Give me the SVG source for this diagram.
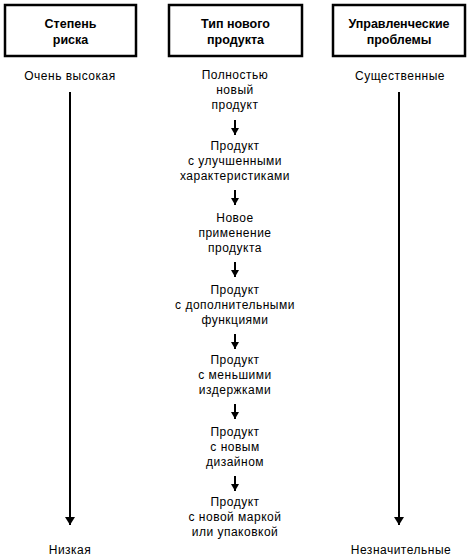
<svg xmlns="http://www.w3.org/2000/svg" width="474" height="558" viewBox="0 0 474 558">
<defs>
<style>
.box{fill:#fff;stroke:#000;stroke-width:2.5}
.h{font-family:"Liberation Sans",Arial,sans-serif;font-size:12.5px;font-weight:bold;text-anchor:middle;fill:#000}
.t{font-family:"Liberation Sans",Arial,sans-serif;font-size:12px;letter-spacing:0.5px;text-anchor:middle;fill:#000}
.big{stroke:#000;stroke-width:2;fill:none}
.sm{stroke:#000;stroke-width:2;fill:none}
</style>
<marker id="ah" viewBox="0 0 8 10" refX="8" refY="5" markerWidth="8" markerHeight="10" markerUnits="userSpaceOnUse" orient="auto"><path d="M0,0 L8,5 L0,10 z" fill="#000"/></marker>
<marker id="ahs" viewBox="0 0 7 8" refX="7" refY="4" markerWidth="7" markerHeight="8" markerUnits="userSpaceOnUse" orient="auto"><path d="M0,0 L7,4 L0,8 z" fill="#000"/></marker>
</defs>
<rect width="474" height="558" fill="#fff"/>
<g id="risk-header"><rect class="box" x="5" y="5" width="131" height="51"/><text class="h" x="70.5" y="28">Степень</text><text class="h" x="70.5" y="44">риска</text></g>
<g id="type-header"><rect class="box" x="169" y="5" width="133" height="51"/><text class="h" x="235.5" y="28">Тип нового</text><text class="h" x="235.5" y="44">продукта</text></g>
<g id="problems-header"><rect class="box" x="333" y="5" width="132" height="51"/><text class="h" x="399" y="28">Управленческие</text><text class="h" x="399" y="44">проблемы</text></g>
<g id="risk-high"><text class="t" x="70" y="80">Очень высокая</text></g>
<g id="risk-low"><text class="t" x="70" y="554">Низкая</text></g>
<g id="problems-high"><text class="t" x="400" y="80">Существенные</text></g>
<g id="problems-low"><text class="t" x="401" y="554">Незначительные</text></g>
<g id="p1"><text class="t" x="235" y="79">Полностью</text><text class="t" x="235" y="94">новый</text><text class="t" x="235" y="109">продукт</text></g>
<g id="p2"><text class="t" x="235" y="150">Продукт</text><text class="t" x="235" y="165">с улучшенными</text><text class="t" x="235" y="180">характеристиками</text></g>
<g id="p3"><text class="t" x="235" y="222">Новое</text><text class="t" x="235" y="237">применение</text><text class="t" x="235" y="252">продукта</text></g>
<g id="p4"><text class="t" x="235" y="294">Продукт</text><text class="t" x="235" y="309">с дополнительными</text><text class="t" x="235" y="324">функциями</text></g>
<g id="p5"><text class="t" x="235" y="364">Продукт</text><text class="t" x="235" y="379">с меньшими</text><text class="t" x="235" y="394">издержками</text></g>
<g id="p6"><text class="t" x="235" y="436">Продукт</text><text class="t" x="235" y="451">с новым</text><text class="t" x="235" y="466">дизайном</text></g>
<g id="p7"><text class="t" x="235" y="506">Продукт</text><text class="t" x="235" y="521">с новой маркой</text><text class="t" x="235" y="536">или упаковкой</text></g>
<g id="connectors">
<line class="big" x1="70" y1="92" x2="70" y2="525" marker-end="url(#ah)"/>
<line class="big" x1="399" y1="92" x2="399" y2="525" marker-end="url(#ah)"/>
<line class="sm" x1="235" y1="120" x2="235" y2="135" marker-end="url(#ahs)"/>
<line class="sm" x1="235" y1="190" x2="235" y2="205" marker-end="url(#ahs)"/>
<line class="sm" x1="235" y1="262" x2="235" y2="277" marker-end="url(#ahs)"/>
<line class="sm" x1="235" y1="334" x2="235" y2="349" marker-end="url(#ahs)"/>
<line class="sm" x1="235" y1="404" x2="235" y2="419" marker-end="url(#ahs)"/>
<line class="sm" x1="235" y1="476" x2="235" y2="491" marker-end="url(#ahs)"/>
</g>
</svg>
